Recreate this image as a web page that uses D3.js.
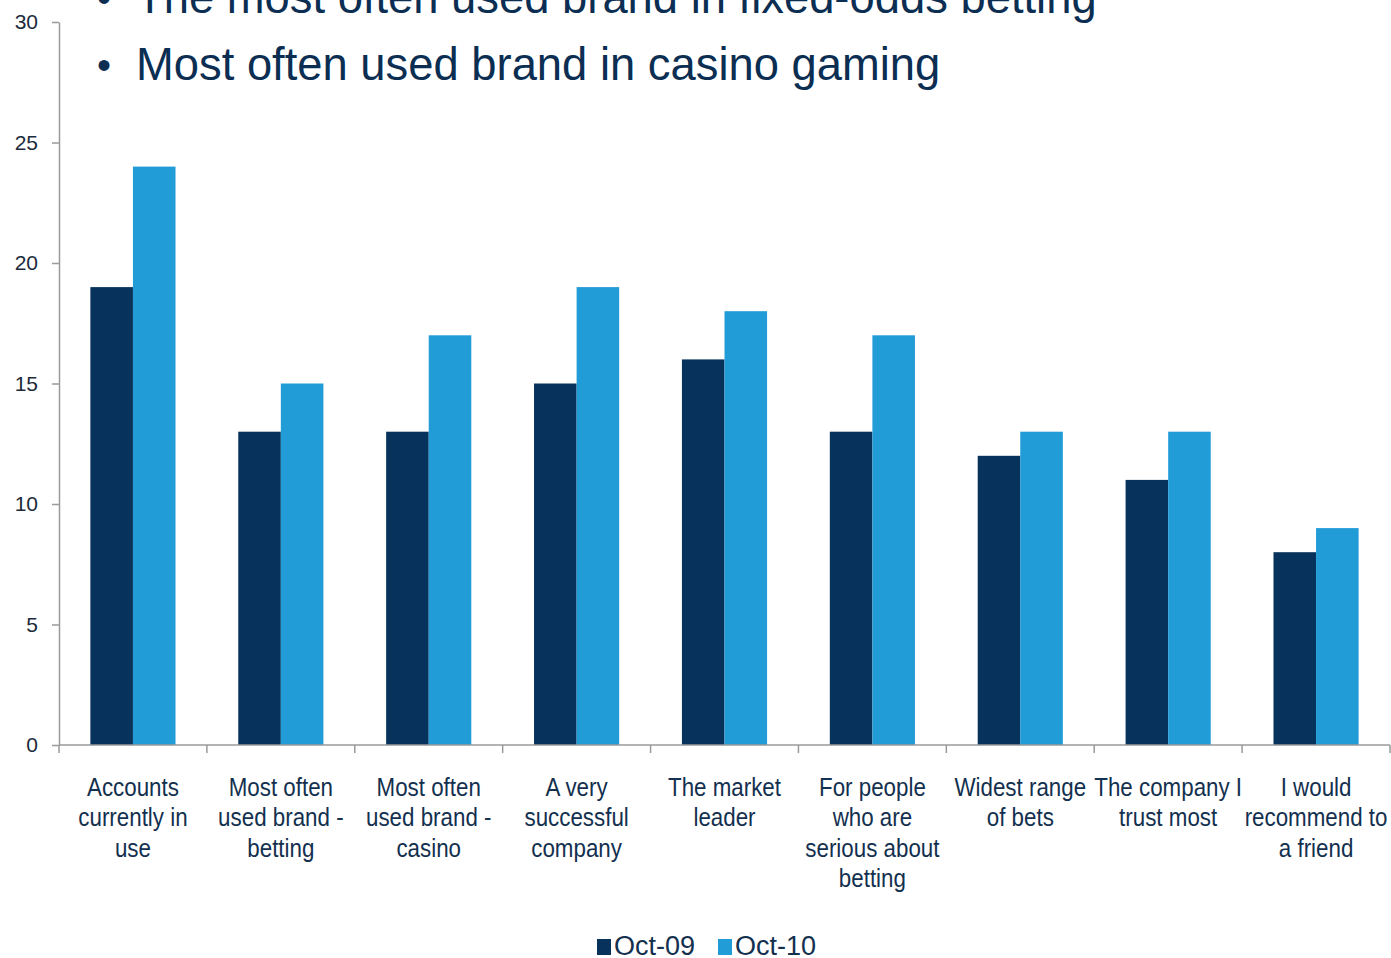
<!DOCTYPE html>
<html>
<head>
<meta charset="utf-8">
<script src="https://cdn.jsdelivr.net/npm/d3@7"></script>
<style>
  html, body { margin: 0; padding: 0; background: #fff; }
  svg { display: block; }
  text { font-family: "Liberation Sans", Arial, sans-serif; }
</style>
</head>
<body>
<svg id="chart" width="1391" height="958"></svg>
<script>
// Survey results: share of respondents (%) per brand statement
const categories = [
  ["Accounts", "currently in", "use"],
  ["Most often", "used brand -", "betting"],
  ["Most often", "used brand -", "casino"],
  ["A very", "successful", "company"],
  ["The market", "leader"],
  ["For people", "who are", "serious about", "betting"],
  ["Widest range", "of bets"],
  ["The company I", "trust most"],
  ["I would", "recommend to", "a friend"]
];
const seriesNames = ["Oct-09", "Oct-10"];
const oct09 = [19, 13, 13, 15, 16, 13, 12, 11, 8];
const oct10 = [24, 15, 17, 19, 18, 17, 13, 13, 9];
const yTicks = [0, 5, 10, 15, 20, 25, 30];
const headlines = [
  "The most often used brand in fixed-odds betting",
  "Most often used brand in casino gaming"
];

const colors = { "Oct-09": "#07325b", "Oct-10": "#229cd7" };
const navy = "#0b2e52";

const svg = d3.select("#chart");
const plotLeft = 59, plotRight = 1390, plotTop = 22, plotBottom = 745;

const rows = categories.map((c, i) => ({ key: i, label: c, values: [oct09[i], oct10[i]] }));

const x0 = d3.scaleBand().domain(rows.map(r => r.key)).range([plotLeft, plotRight]).padding(0);
const x1 = d3.scaleBand().domain(seriesNames).range([0, x0.bandwidth()])
  .paddingInner(0).paddingOuter(0.737);
const y = d3.scaleLinear().domain([0, 30]).range([plotBottom, plotTop]);

// Headline bullets (the first line runs off the top of the frame)
const head = svg.append("g");
const headBaselines = [13, 80];
headlines.forEach((t, i) => {
  const by = headBaselines[i];
  head.append("text").attr("x", 97).attr("y", by - 1)
    .attr("font-size", 40).attr("fill", navy).text("•");
  const tx = head.append("text").attr("x", 136).attr("y", by)
    .attr("font-size", 47).attr("fill", navy).text(t);
  const w = tx.node().getComputedTextLength();
  tx.attr("textLength", w * 0.965).attr("lengthAdjust", "spacingAndGlyphs");
});

// Bars
const groups = svg.append("g").selectAll("g").data(rows).join("g")
  .attr("transform", d => `translate(${x0(d.key)},0)`);
groups.selectAll("rect")
  .data(d => seriesNames.map((s, j) => ({ s, v: d.values[j] })))
  .join("rect")
  .attr("x", d => x1(d.s))
  .attr("width", x1.bandwidth())
  .attr("y", d => y(d.v))
  .attr("height", d => y(0) - y(d.v))
  .attr("fill", d => colors[d.s]);

// Y axis
const yAxis = svg.append("g").attr("transform", `translate(${plotLeft},0)`)
  .call(d3.axisLeft(y).tickValues(yTicks).tickSize(7).tickPadding(14).tickSizeOuter(0));
yAxis.select(".domain").attr("stroke", "#9a9a9a").attr("stroke-width", 1.5);
yAxis.selectAll(".tick line").attr("stroke", "#9a9a9a").attr("stroke-width", 1.5);
yAxis.selectAll(".tick text").attr("font-size", 21).attr("fill", "#1c2a3a")
  .attr("font-family", "Liberation Sans, Arial, sans-serif");

// X axis baseline and category boundary ticks
const xAxis = svg.append("g");
xAxis.append("line").attr("x1", plotLeft).attr("x2", plotRight).attr("y1", plotBottom).attr("y2", plotBottom)
  .attr("stroke", "#9a9a9a").attr("stroke-width", 1.5);
const bounds = rows.map(r => x0(r.key)).concat([x0(rows[rows.length - 1].key) + x0.bandwidth()]);
xAxis.selectAll("line.b").data(bounds).join("line").attr("class", "b")
  .attr("x1", d => d).attr("x2", d => d).attr("y1", plotBottom).attr("y2", plotBottom + 8)
  .attr("stroke", "#9a9a9a").attr("stroke-width", 1.5);

// Category labels
const labels = svg.append("g").selectAll("text").data(rows).join("text")
  .attr("transform", d => `translate(${x0(d.key) + x0.bandwidth() / 2},796) scale(0.86,1)`)
  .attr("text-anchor", "middle").attr("font-size", 26).attr("fill", "#13304f");
labels.selectAll("tspan").data(d => d.label).join("tspan")
  .attr("x", 0).attr("dy", (d, i) => i === 0 ? 0 : 30.3).text(d => d);

// Legend
const legend = svg.append("g");
const legendItems = [{ s: "Oct-09", x: 597 }, { s: "Oct-10", x: 718 }];
legendItems.forEach(it => {
  legend.append("rect").attr("x", it.x).attr("y", 939).attr("width", 14).attr("height", 16)
    .attr("fill", colors[it.s]);
  legend.append("text").attr("x", it.x + 17).attr("y", 955).attr("font-size", 27)
    .attr("fill", "#13304f").text(it.s);
});
</script>
</body>
</html>
